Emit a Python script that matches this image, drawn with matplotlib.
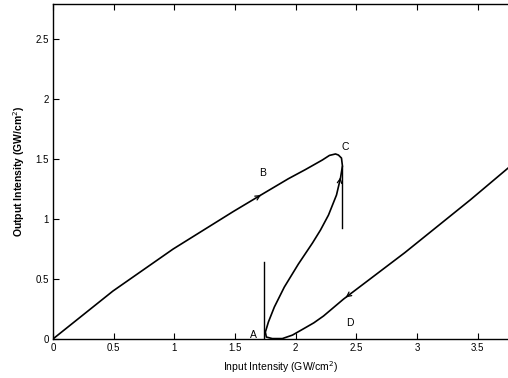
import matplotlib
matplotlib.use('Agg')
from matplotlib import pyplot as plt

# curve, traced from the origin round the S-shape
input_upper = [0, 0.495, 0.991, 1.486, 1.734, 1.941, 2.081, 2.221, 2.279, 2.329, 2.353, 2.378, 2.386]
output_upper = [0, 0.400, 0.750, 1.062, 1.212, 1.336, 1.412, 1.492, 1.530, 1.542, 1.533, 1.508, 1.442]

input_middle = [2.370, 2.337, 2.271, 2.205, 2.139, 2.023, 1.907, 1.825, 1.776, 1.751, 1.759, 1.808, 1.891]
output_middle = [1.342, 1.200, 1.033, 0.908, 0.800, 0.625, 0.433, 0.267, 0.142, 0.058, 0.017, 0.004, 0.004]

input_lower = [1.974, 2.064, 2.150, 2.230, 2.395, 2.600, 2.900, 3.170, 3.440, 3.757]
output_lower = [0.033, 0.085, 0.135, 0.192, 0.333, 0.490, 0.720, 0.940, 1.160, 1.430]

# switching lines
switch_x = [1.74, 2.386]
switch_y0 = [0, 0.925]
switch_y1 = [0.64, 1.44]

labels = ['A', 'B', 'C', 'D']
label_x = [1.65, 1.73, 2.41, 2.45]
label_y = [0.03, 1.38, 1.60, 0.13]

xticks = [0, 0.5, 1, 1.5, 2, 2.5, 3, 3.5]
yticks = [0, 0.5, 1, 1.5, 2, 2.5]

plt.rcParams['font.family'] = ['Liberation Sans', 'DejaVu Sans']

fig = plt.figure(figsize=(5.08, 3.78), dpi=100)
ax = fig.add_axes([0.104, 0.103, 0.896, 0.886])

x = input_upper + input_middle + input_lower
y = output_upper + output_middle + output_lower
ax.plot(x, y, color='black', lw=1.2, solid_joinstyle='round')

for i in range(len(switch_x)):
    ax.plot([switch_x[i], switch_x[i]], [switch_y0[i], switch_y1[i]], color='black', lw=1)

# little direction arrows on the branches
arrows = [((1.69, 1.185), (1.734, 1.212)),
          ((2.362, 1.30), (2.374, 1.37)),
          ((2.44, 0.368), (2.395, 0.333))]
for a, b in arrows:
    ax.annotate('', xy=b, xytext=a,
                arrowprops=dict(arrowstyle='->', lw=0.9, color='black', mutation_scale=8))

for i in range(len(labels)):
    ax.text(label_x[i], label_y[i], labels[i], fontsize=7.5, ha='center', va='center')

ax.set_xlim(0, 3.75)
ax.set_ylim(0, 2.79)
ax.set_xticks(xticks)
ax.set_xticklabels(['0', '0.5', '1', '1.5', '2', '2.5', '3', '3.5'])
ax.set_yticks(yticks)
ax.set_yticklabels(['0', '0.5', '1', '1.5', '2', '2.5'])
ax.tick_params(direction='in', length=4, width=0.8, labelsize=7, top=True, right=False, pad=3)
for s in ['left', 'bottom', 'top']:
    ax.spines[s].set_linewidth(1)
ax.spines['right'].set_visible(False)

ax.set_xlabel('Input Intensity (GW/cm$^2$)', fontsize=7.5, labelpad=4)
ax.set_ylabel('Output Intensity (GW/cm$^2$)', fontsize=7.5, fontweight='bold', labelpad=6)

fig.savefig('out.png', dpi=100)
